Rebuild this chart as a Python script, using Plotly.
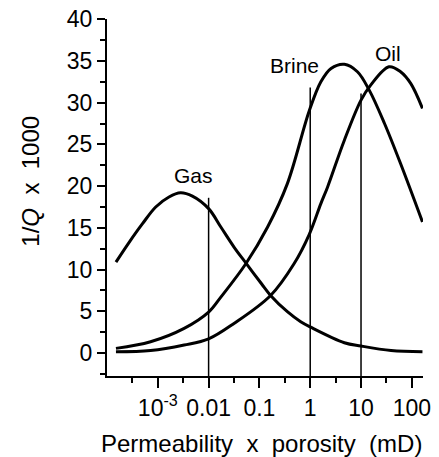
import math
import plotly.graph_objects as go

# ---- data ----
gas_x = [1.5e-4, 2.75e-4, 5e-4, 9.1e-4, 1.66e-3, 2.8e-3, 4.8e-3, 0.01, 0.0174, 0.0316,
         0.054, 0.11, 0.166, 0.355, 0.65, 1.02, 4.7, 10, 39, 162]
gas_y = [10.9, 13.3, 15.5, 17.5, 18.7, 19.2, 18.8, 17.3, 15.1, 12.7,
         10.8, 8.3, 6.9, 4.95, 3.75, 3.1, 1.24, 0.84, 0.3, 0.15]

brine_x = [1.5e-4, 7.2e-4, 3.3e-3, 0.01, 0.0174, 0.054, 0.145, 0.355, 0.955, 1.62,
           2.57, 4.7, 8.5, 14.5, 29, 60, 162]
brine_y = [0.56, 1.35, 2.95, 4.9, 6.7, 10.7, 15.1, 20.3, 29.0, 32.5,
           34.1, 34.6, 33.7, 31.5, 27.5, 22.7, 15.7]

oil_x = [1.5e-4, 7.2e-4, 3.3e-3, 0.01, 0.0316, 0.166, 0.48, 0.955, 1.62, 2.2,
         4.7, 10, 15.5, 35.5, 60, 95, 162]
oil_y = [0.15, 0.3, 0.96, 1.7, 3.55, 6.9, 10.7, 14.2, 17.9, 19.9,
         25.5, 30.3, 32.1, 34.3, 33.7, 32.3, 29.3]

vline_x = [0.01, 1, 10]
vline_top = [18.6, 31.8, 31.1]

labels = ["Gas", "Brine", "Oil"]
label_x = [0.0051, 0.48, 34]
label_y = [21.3, 34.5, 35.9]

x_tickvals = [0.001, 0.01, 0.1, 1, 10, 100]
x_ticktext = ["10<sup>-3</sup>", "0.01", "0.1", "1", "10", "100"]
x_minor = [10 ** (k + 0.5) for k in range(-4, 2)]
y_tickvals = [0, 5, 10, 15, 20, 25, 30, 35, 40]
y_minor = [-2.5, 2.5, 7.5, 12.5, 17.5, 22.5, 27.5, 32.5, 37.5]

YMIN, YMAX = -2.75, 40.02

FONT = "Liberation Sans, Arial, sans-serif"

fig = go.Figure()
for xs, ys in [(gas_x, gas_y), (brine_x, brine_y), (oil_x, oil_y)]:
    fig.add_trace(go.Scatter(x=xs, y=ys, mode="lines",
                             line=dict(color="black", width=3, shape="spline", smoothing=1),
                             showlegend=False, hoverinfo="skip"))
for vx, vt in zip(vline_x, vline_top):
    fig.add_trace(go.Scatter(x=[vx, vx], y=[YMIN, vt], mode="lines",
                             line=dict(color="black", width=1.5),
                             showlegend=False, hoverinfo="skip"))

for t, lx, ly in zip(labels, label_x, label_y):
    fig.add_annotation(x=math.log10(lx), y=ly, xref="x", yref="y", text=t, showarrow=False,
                       font=dict(family=FONT, size=21, color="black"),
                       xanchor="center", yanchor="middle")

fig.add_annotation(xref="paper", yref="paper", x=0.489, y=-0.19,
                   text="Permeability\u00a0\u00a0x\u00a0\u00a0porosity\u00a0\u00a0(mD)",
                   showarrow=False, xanchor="center", yanchor="middle",
                   font=dict(family=FONT, size=24, color="black"))
fig.add_annotation(xref="paper", yref="paper", x=-0.243, y=0.545,
                   text="1/<i>Q</i>\u00a0\u00a0x\u00a0\u00a01000", textangle=-90,
                   showarrow=False, xanchor="center", yanchor="middle",
                   font=dict(family=FONT, size=24, color="black"))

fig.update_xaxes(type="log", range=[-4, 2.22], automargin=False,
                 tickvals=x_tickvals, ticktext=x_ticktext,
                 ticks="outside", ticklen=10, tickwidth=2, tickcolor="black",
                 minor=dict(tickvals=x_minor, ticks="outside", ticklen=5, tickwidth=2, tickcolor="black"),
                 showline=True, linewidth=2, linecolor="black",
                 showgrid=False, zeroline=False, ticklabeloverflow="allow",
                 tickfont=dict(family=FONT, size=23, color="black"))
fig.update_yaxes(range=[YMIN, YMAX], automargin=False,
                 tickvals=y_tickvals,
                 ticks="outside", ticklen=8, tickwidth=2, tickcolor="black",
                 minor=dict(tickvals=y_minor, ticks="outside", ticklen=5, tickwidth=2, tickcolor="black"),
                 showline=True, linewidth=2, linecolor="black",
                 showgrid=False, zeroline=False, ticklabeloverflow="allow",
                 tickfont=dict(family=FONT, size=23, color="black"))

# the page body has an 8px default margin, so the figure is 8px smaller and offset
fig.update_layout(width=431, height=449,
                  margin=dict(l=99, r=16, t=11, b=81),
                  paper_bgcolor="white", plot_bgcolor="white")

fig.write_html("out.html")
